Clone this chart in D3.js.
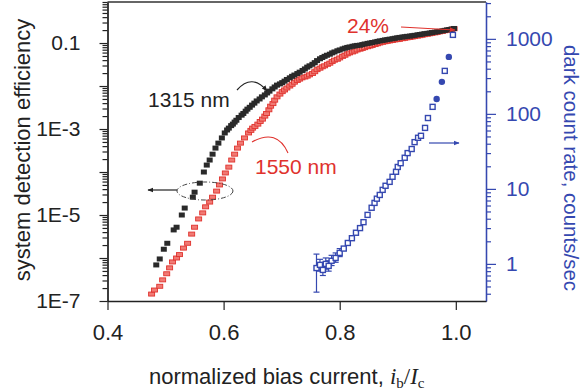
<!DOCTYPE html>
<html>
<head>
<meta charset="utf-8">
<script src="https://cdn.jsdelivr.net/npm/d3@7"></script>
<style>
  body { margin: 0; background: #fff; }
  svg { display: block; font-family: "Liberation Sans", Arial, sans-serif; }
</style>
</head>
<body>
<div id="chart"></div>
<script>
// system detection efficiency at 1315 nm (black squares)
const sde1315X = [
  0.484, 0.490, 0.497, 0.503, 0.514, 0.519, 0.528, 0.533, 0.547, 0.550,
  0.559, 0.566, 0.571, 0.576, 0.581, 0.586, 0.591, 0.597, 0.602, 0.606,
  0.609, 0.613, 0.616, 0.619, 0.622, 0.626, 0.631, 0.634, 0.638, 0.641,
  0.645, 0.649, 0.653, 0.657, 0.662, 0.666, 0.671, 0.675, 0.679, 0.684,
  0.688, 0.692, 0.697, 0.701, 0.705, 0.709, 0.714, 0.718, 0.722, 0.727,
  0.731, 0.736, 0.740, 0.744, 0.748, 0.753, 0.757, 0.761, 0.766, 0.770,
  0.774, 0.778, 0.783, 0.787, 0.791, 0.796, 0.800, 0.805, 0.809, 0.813,
  0.817, 0.822, 0.826, 0.830, 0.835, 0.839, 0.843, 0.848, 0.852, 0.856,
  0.861, 0.865, 0.869, 0.874, 0.878, 0.882, 0.886, 0.891, 0.895, 0.899,
  0.903, 0.908, 0.912, 0.916, 0.921, 0.925, 0.929, 0.934, 0.938, 0.942,
  0.946, 0.951, 0.955, 0.959, 0.964, 0.968, 0.972, 0.977, 0.981, 0.985,
  0.989, 0.993, 0.997
];
const sde1315Y = [
  6.9e-7, 9.5e-7, 1.6e-6, 2.2e-6, 4.5e-6, 5.2e-6, 1.0e-5, 1.45e-5, 2.6e-5, 3.4e-5,
  5.5e-5, 1.0e-4, 1.45e-4, 1.9e-4, 2.6e-4, 3.6e-4, 4.7e-4, 6.2e-4, 8.1e-4, 9.5e-4,
  1.05e-3, 1.2e-3, 1.3e-3, 1.45e-3, 1.6e-3, 1.85e-3, 2.1e-3, 2.3e-3, 2.6e-3, 2.9e-3,
  3.2e-3, 3.6e-3, 4.0e-3, 4.5e-3, 5.0e-3, 5.6e-3, 6.2e-3, 6.9e-3, 7.6e-3, 8.6e-3,
  9.5e-3, 1.05e-2, 1.12e-2, 1.2e-2, 1.3e-2, 1.42e-2, 1.55e-2, 1.68e-2, 1.8e-2, 1.95e-2,
  2.1e-2, 2.3e-2, 2.5e-2, 2.75e-2, 2.95e-2, 3.2e-2, 3.5e-2, 3.9e-2, 4.3e-2, 4.6e-2,
  4.9e-2, 5.2e-2, 5.5e-2, 5.9e-2, 6.2e-2, 6.6e-2, 6.9e-2, 7.3e-2, 7.6e-2, 7.9e-2,
  8.1e-2, 8.4e-2, 8.6e-2, 8.8e-2, 8.9e-2, 9.2e-2, 9.5e-2, 9.8e-2, 0.100, 0.103,
  0.106, 0.109, 0.112, 0.115, 0.118, 0.120, 0.123, 0.126, 0.129, 0.132,
  0.135, 0.138, 0.140, 0.143, 0.145, 0.148, 0.151, 0.155, 0.158, 0.161,
  0.165, 0.168, 0.171, 0.175, 0.179, 0.183, 0.187, 0.192, 0.197, 0.202,
  0.206, 0.212, 0.218
];

// system detection efficiency at 1550 nm (red markers)
const sde1550X = [
  0.476, 0.481, 0.490, 0.495, 0.502, 0.507, 0.512, 0.519, 0.524, 0.531,
  0.538, 0.545, 0.550, 0.557, 0.564, 0.569, 0.576, 0.581, 0.588, 0.593,
  0.598, 0.603, 0.609, 0.614, 0.619, 0.624, 0.629, 0.636, 0.643, 0.647,
  0.650, 0.654, 0.659, 0.663, 0.667, 0.671, 0.674, 0.678, 0.681, 0.685,
  0.688, 0.692, 0.697, 0.701, 0.705, 0.709, 0.714, 0.718, 0.722, 0.727,
  0.731, 0.735, 0.740, 0.744, 0.748, 0.753, 0.757, 0.761, 0.766, 0.770,
  0.774, 0.779, 0.783, 0.787, 0.791, 0.796, 0.800, 0.805, 0.809, 0.813,
  0.817, 0.822, 0.826, 0.830, 0.835, 0.839, 0.843, 0.848, 0.852, 0.856,
  0.861, 0.865, 0.869, 0.874, 0.878, 0.882, 0.886, 0.891, 0.895, 0.899,
  0.903, 0.908, 0.912, 0.916, 0.921, 0.925, 0.929, 0.934, 0.938, 0.942,
  0.946, 0.951, 0.955, 0.959, 0.964, 0.968, 0.972, 0.977, 0.981, 0.985,
  0.989, 0.993, 0.997
];
const sde1550Y = [
  1.45e-7, 1.8e-7, 2.2e-7, 3.1e-7, 4.3e-7, 5.9e-7, 8.1e-7, 1.0e-6, 1.2e-6, 1.7e-6,
  2.2e-6, 3.6e-6, 5.2e-6, 8.1e-6, 1.12e-5, 1.55e-5, 2.0e-5, 2.6e-5, 3.6e-5, 5.0e-5,
  6.9e-5, 9.5e-5, 1.3e-4, 1.9e-4, 2.6e-4, 3.6e-4, 4.7e-4, 6.2e-4, 8.1e-4, 9.3e-4,
  1.05e-3, 1.15e-3, 1.3e-3, 1.5e-3, 1.7e-3, 2.0e-3, 2.3e-3, 2.8e-3, 3.4e-3, 3.9e-3,
  4.7e-3, 5.6e-3, 6.5e-3, 7.4e-3, 8.1e-3, 9.0e-3, 1.0e-2, 1.1e-2, 1.23e-2, 1.35e-2,
  1.45e-2, 1.55e-2, 1.62e-2, 1.7e-2, 1.82e-2, 1.95e-2, 2.15e-2, 2.4e-2, 2.6e-2, 2.8e-2,
  2.95e-2, 3.2e-2, 3.4e-2, 3.7e-2, 4.0e-2, 4.2e-2, 4.5e-2, 4.9e-2, 5.2e-2, 5.6e-2,
  5.9e-2, 6.2e-2, 6.5e-2, 6.9e-2, 7.2e-2, 7.5e-2, 7.8e-2, 8.2e-2, 8.5e-2, 8.8e-2,
  9.2e-2, 9.6e-2, 0.100, 0.104, 0.107, 0.110, 0.112, 0.115, 0.118, 0.120,
  0.122, 0.126, 0.129, 0.132, 0.135, 0.138, 0.141, 0.145, 0.148, 0.152,
  0.156, 0.160, 0.164, 0.168, 0.172, 0.177, 0.182, 0.187, 0.193, 0.198,
  0.203, 0.209, 0.215
];

// dark count rate (blue, right axis)
const darkX = [
  0.760, 0.766, 0.771, 0.776, 0.781, 0.786, 0.793, 0.800, 0.807, 0.814,
  0.821, 0.828, 0.835, 0.841, 0.848, 0.855, 0.860, 0.864, 0.869, 0.874,
  0.879, 0.886, 0.891, 0.897, 0.900, 0.905, 0.912, 0.917, 0.924, 0.929,
  0.935, 0.940, 0.947, 0.952, 0.960, 0.981, 0.995
];
const darkY = [
  0.88, 0.97, 0.83, 1.0, 0.94, 1.1, 1.2, 1.4, 1.6, 1.9,
  2.2, 2.6, 3.0, 3.6, 4.5, 5.6, 6.5, 7.4, 8.3, 9.7,
  11, 12.4, 14.5, 16.9, 19.6, 22, 26, 30, 34, 42,
  48, 51, 65, 88, 124, 374, 1130
];
// error bars on the first low-rate points
const darkErrLo = [0.42, 0.80, 0.70, 0.85, 0.80, 0.95, 1.05, 1.25];
const darkErrHi = [1.35, 1.15, 1.00, 1.20, 1.10, 1.30, 1.40, 1.60];
const darkFilledX = [0.967, 0.976, 0.988];
const darkFilledY = [158, 267, 575];

const xTicks = [0.4, 0.6, 0.8, 1.0];
const xTickLabels = ["0.4", "0.6", "0.8", "1.0"];
const leftMajor = [1e-7, 1e-6, 1e-5, 1e-4, 1e-3, 1e-2, 1e-1];
const leftLabelValues = [1e-7, 1e-5, 1e-3, 1e-1];
const leftLabels = ["1E-7", "1E-5", "1E-3", "0.1"];
const rightMajor = [1, 10, 100, 1000];
const rightLabels = ["1", "10", "100", "1000"];

const W = 584, H = 391;
const black = "#222222", red = "#e0322d", blue = "#3548b0";
const font = '"Liberation Sans", Arial, sans-serif';

const svg = d3.select("#chart").append("svg").attr("width", W).attr("height", H);

const x = d3.scaleLinear().domain([0.4, 1.052]).range([107.5, 486]);
const yL = d3.scaleLog().domain([1e-7, 0.9]).range([301, 2]);
const yR = d3.scaleLog().domain([0.32, 3100]).range([301, 2]);

const isDecade = v => Math.abs(Math.log10(v) - Math.round(Math.log10(v))) < 1e-6;
const labelFor = (vals, labels) => d => {
  const i = vals.findIndex(v => Math.abs(v - d) / v < 1e-6);
  return i >= 0 ? labels[i] : "";
};

function styleAxis(g, color, size) {
  g.attr("font-size", null).attr("font-family", null);
  g.select(".domain").attr("stroke", color).attr("stroke-width", 1.3);
  g.selectAll(".tick line").attr("stroke", color).attr("stroke-width", 1.2);
  g.selectAll(".tick text").attr("fill", color).style("font-family", font).style("font-size", size + "px");
}

// top frame line
svg.append("line")
  .attr("x1", x.range()[0]).attr("x2", x.range()[1])
  .attr("y1", 2).attr("y2", 2)
  .attr("stroke", "#333").attr("stroke-width", 1.3);

// left axis
svg.append("g").attr("transform", "translate(107.5,0)")
  .call(d3.axisLeft(yL).tickValues(yL.ticks().filter(v => !isDecade(v))).tickSize(5).tickSizeOuter(0).tickFormat(""))
  .call(g => styleAxis(g, black, 21));
svg.append("g").attr("transform", "translate(107.5,0)")
  .call(d3.axisLeft(yL).tickValues(leftMajor).tickSize(8).tickSizeOuter(0).tickPadding(19)
    .tickFormat(labelFor(leftLabelValues, leftLabels)))
  .call(g => styleAxis(g, black, 21));

// right axis
svg.append("g").attr("transform", "translate(486,0)")
  .call(d3.axisRight(yR).tickValues(yR.ticks().filter(v => !isDecade(v))).tickSize(5).tickSizeOuter(0).tickFormat(""))
  .call(g => styleAxis(g, blue, 21));
svg.append("g").attr("transform", "translate(486,0)")
  .call(d3.axisRight(yR).tickValues(rightMajor).tickSize(10).tickSizeOuter(0).tickPadding(10)
    .tickFormat(labelFor(rightMajor, rightLabels)))
  .call(g => styleAxis(g, blue, 21));

// bottom axis
svg.append("g").attr("transform", "translate(0,301)")
  .call(d3.axisBottom(x).tickValues(xTicks).tickSize(9).tickSizeOuter(0).tickPadding(14)
    .tickFormat(labelFor(xTicks, xTickLabels)))
  .call(g => styleAxis(g, black, 22));

// axis titles
svg.append("text")
  .attr("transform", "translate(30,150) rotate(-90)")
  .attr("text-anchor", "middle")
  .style("font-size", "22px").attr("fill", black)
  .text("system detection efficiency");

svg.append("text")
  .attr("transform", "translate(564,168) rotate(90)")
  .attr("text-anchor", "middle")
  .style("font-size", "20.5px").attr("fill", blue)
  .text("dark count rate, counts/sec");

const xTitle = svg.append("text")
  .attr("x", 149).attr("y", 384)
  .style("font-size", "22px").attr("fill", black);
xTitle.append("tspan").text("normalized bias current, ");
const serif = '"Liberation Serif", "Times New Roman", serif';
xTitle.append("tspan").style("font-family", serif).style("font-style", "italic").style("font-size", "23px").text("i");
xTitle.append("tspan").style("font-family", serif).style("font-size", "15px").attr("dy", 4).text("b");
xTitle.append("tspan").style("font-family", serif).style("font-size", "23px").attr("dy", -4).text("/");
xTitle.append("tspan").style("font-family", serif).style("font-style", "italic").style("font-size", "23px").text("I");
xTitle.append("tspan").style("font-family", serif).style("font-size", "15px").attr("dy", 4).text("c");

// data: 1550 nm first, 1315 nm on top
svg.append("g").selectAll("rect")
  .data(d3.zip(sde1550X, sde1550Y))
  .join("rect")
  .attr("x", d => x(d[0]) - 3).attr("y", d => yL(d[1]) - 2)
  .attr("width", 6).attr("height", 4)
  .attr("fill", "#f07a74").attr("stroke", red).attr("stroke-width", 0.9);

svg.append("g").selectAll("rect")
  .data(d3.zip(sde1315X, sde1315Y))
  .join("rect")
  .attr("x", d => x(d[0]) - 3).attr("y", d => yL(d[1]) - 2.5)
  .attr("width", 6).attr("height", 5)
  .attr("fill", "#2a2a2a");

// dark counts
const errG = svg.append("g").attr("stroke", blue).attr("stroke-width", 1.2);
darkErrLo.forEach((lo, i) => {
  const cx = x(darkX[i]);
  const hi = darkErrHi[i];
  errG.append("line").attr("x1", cx).attr("x2", cx).attr("y1", yR(lo)).attr("y2", yR(hi));
  errG.append("line").attr("x1", cx - 3).attr("x2", cx + 3).attr("y1", yR(lo)).attr("y2", yR(lo));
  errG.append("line").attr("x1", cx - 3).attr("x2", cx + 3).attr("y1", yR(hi)).attr("y2", yR(hi));
});

svg.append("g").selectAll("rect")
  .data(d3.zip(darkX, darkY))
  .join("rect")
  .attr("x", d => x(d[0]) - 2.5).attr("y", d => yR(d[1]) - 2.5)
  .attr("width", 5).attr("height", 5)
  .attr("fill", "#fff").attr("stroke", blue).attr("stroke-width", 1.4);

svg.append("g").selectAll("circle")
  .data(d3.zip(darkFilledX, darkFilledY))
  .join("circle")
  .attr("cx", d => x(d[0])).attr("cy", d => yR(d[1]))
  .attr("r", 3.2).attr("fill", blue);

// arrowheads
const defs = svg.append("defs");
[["ahBlack", black], ["ahRed", red], ["ahBlue", blue]].forEach(([id, c]) => {
  defs.append("marker")
    .attr("id", id).attr("viewBox", "0 0 10 10")
    .attr("refX", 9).attr("refY", 5)
    .attr("markerWidth", 6).attr("markerHeight", 6)
    .attr("markerUnits", "userSpaceOnUse")
    .attr("orient", "auto")
    .append("path").attr("d", "M0,1 L10,5 L0,9 Z").attr("fill", c);
});

// annotations
svg.append("text").attr("x", 148).attr("y", 107)
  .style("font-size", "21px").attr("fill", black).text("1315 nm");
svg.append("path").attr("d", "M237,90 Q252,73 267,91")
  .attr("fill", "none").attr("stroke", black).attr("stroke-width", 1.2)
  .attr("marker-end", "url(#ahBlack)");

svg.append("text").attr("x", 255).attr("y", 174)
  .style("font-size", "21px").attr("fill", red).text("1550 nm");
svg.append("path").attr("d", "M288,153 Q277,128 252,142")
  .attr("fill", "none").attr("stroke", red).attr("stroke-width", 1.1);

svg.append("text").attr("x", 347).attr("y", 33)
  .style("font-size", "21px").attr("fill", red).text("24%");
svg.append("line").attr("x1", 401).attr("y1", 27).attr("x2", 455).attr("y2", 30)
  .attr("stroke", red).attr("stroke-width", 1.2).attr("marker-end", "url(#ahRed)");

svg.append("ellipse").attr("cx", 205).attr("cy", 191).attr("rx", 28).attr("ry", 9)
  .attr("fill", "none").attr("stroke", "#444").attr("stroke-width", 1)
  .attr("stroke-dasharray", "5,2,1,2");
svg.append("line").attr("x1", 177).attr("y1", 190).attr("x2", 148).attr("y2", 190)
  .attr("stroke", black).attr("stroke-width", 1.2).attr("marker-end", "url(#ahBlack)");

svg.append("line").attr("x1", 429).attr("y1", 143).attr("x2", 459).attr("y2", 143)
  .attr("stroke", blue).attr("stroke-width", 1.2).attr("marker-end", "url(#ahBlue)");
</script>
</body>
</html>
